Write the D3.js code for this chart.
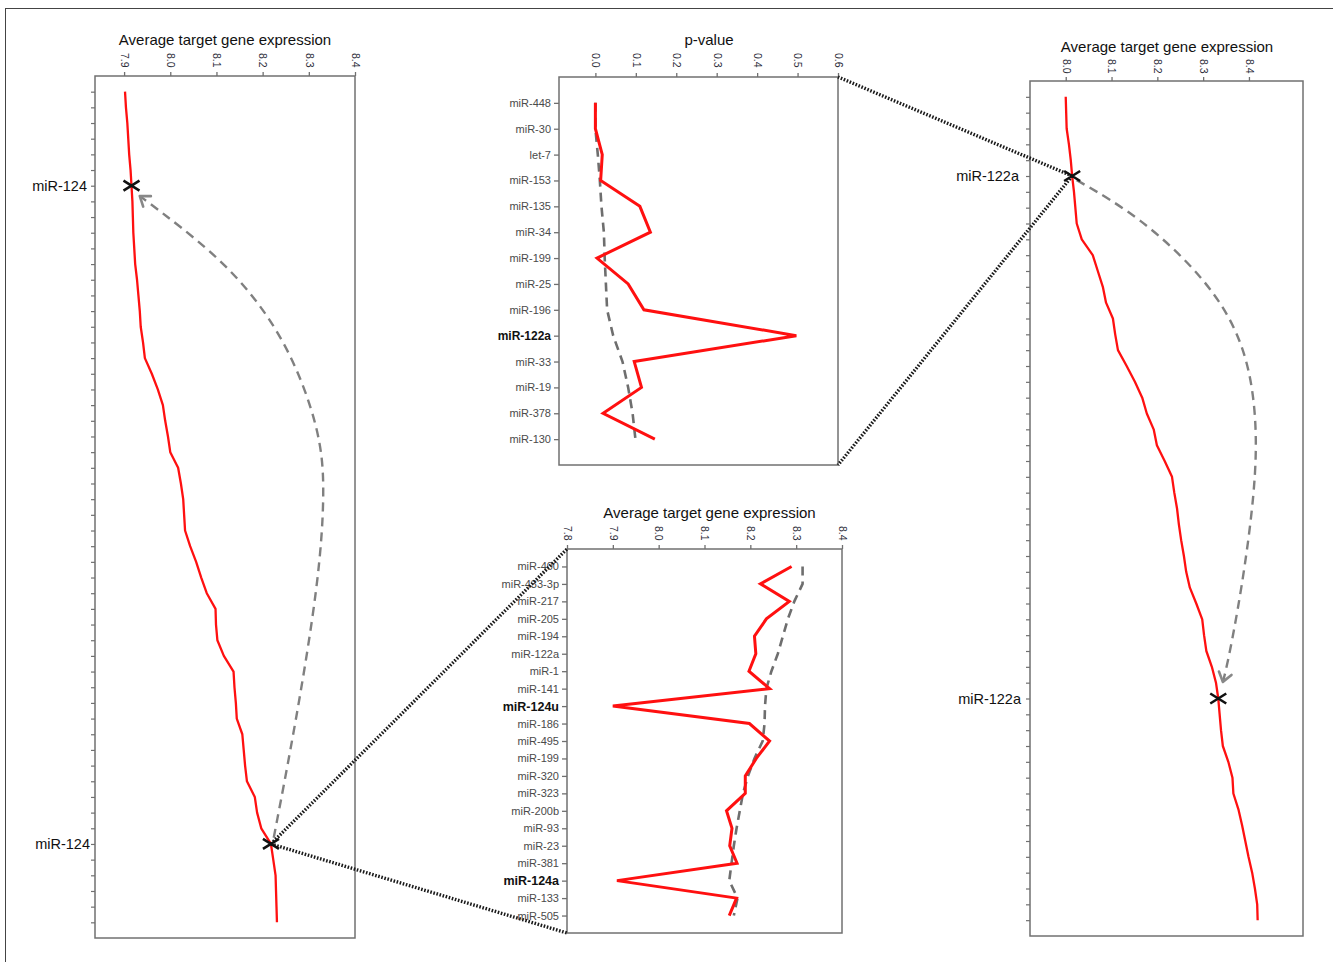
<!DOCTYPE html>
<html>
<head>
<meta charset="utf-8">
<script src="https://cdn.jsdelivr.net/npm/d3@7"></script>
<style>
  body { margin: 0; background: #fff; }
  svg { display: block; font-family: "Liberation Sans", Arial, sans-serif; }
</style>
</head>
<body>
<svg id="fig" width="1333" height="962"></svg>
<script>
// Ranked miRNAs by average target gene expression (outer panels, one value per rank)
const leftExpr = [7.902, 7.904, 7.907, 7.909, 7.911, 7.914, 7.916, 7.918, 7.919, 7.920,
                  7.922, 7.924, 7.928, 7.931, 7.934, 7.936, 7.941, 7.945, 7.960, 7.973,
                  7.984, 7.989, 7.995, 8.000, 8.017, 8.023, 8.028, 8.030, 8.032, 8.043,
                  8.056, 8.067, 8.079, 8.098, 8.099, 8.102, 8.116, 8.137, 8.139, 8.142,
                  8.144, 8.156, 8.159, 8.162, 8.166, 8.183, 8.188, 8.197, 8.218, 8.223,
                  8.228, 8.229, 8.230, 8.231];
const leftMarked = [6, 48];          // miR-124 before / after
const leftMarkLabels = ["miR-124", "miR-124"];

const rightExpr = [8.000, 8.001, 8.002, 8.007, 8.011, 8.014, 8.018, 8.021, 8.024, 8.035,
                   8.059, 8.070, 8.081, 8.088, 8.103, 8.108, 8.114, 8.133, 8.151, 8.167,
                   8.177, 8.192, 8.199, 8.216, 8.232, 8.237, 8.243, 8.247, 8.252, 8.258,
                   8.263, 8.271, 8.285, 8.298, 8.302, 8.307, 8.319, 8.328, 8.333, 8.336,
                   8.339, 8.343, 8.355, 8.364, 8.366, 8.377, 8.385, 8.392, 8.399, 8.407,
                   8.413, 8.418, 8.419];
const rightMarked = [5, 38];         // miR-122a before / after
const rightMarkLabels = ["miR-122a", "miR-122a"];

// p-value panel
const pvalCats = ["miR-448", "miR-30", "let-7", "miR-153", "miR-135", "miR-34", "miR-199",
                  "miR-25", "miR-196", "miR-122a", "miR-33", "miR-19", "miR-378", "miR-130"];
const pvalObserved = [0.000, 0.000, 0.017, 0.013, 0.110, 0.136, 0.004,
                      0.081, 0.120, 0.497, 0.096, 0.114, 0.019, 0.147];
const pvalTrend = [0.000, 0.000, 0.006, 0.011, 0.015, 0.021, 0.023,
                   0.026, 0.029, 0.044, 0.067, 0.081, 0.092, 0.099];
const pvalBold = ["miR-122a"];

// expression panel
const exprCats = ["miR-400", "miR-433-3p", "miR-217", "miR-205", "miR-194", "miR-122a", "miR-1",
                  "miR-141", "miR-124u", "miR-186", "miR-495", "miR-199", "miR-320", "miR-323",
                  "miR-200b", "miR-93", "miR-23", "miR-381", "miR-124a", "miR-133", "miR-505"];
const exprObserved = [8.290, 8.222, 8.285, 8.235, 8.209, 8.212, 8.197,
                      8.242, 7.900, 8.198, 8.242, 8.213, 8.189, 8.189,
                      8.148, 8.160, 8.155, 8.171, 7.909, 8.170, 8.154];
const exprTrend = [8.314, 8.314, 8.296, 8.282, 8.271, 8.260, 8.246,
                   8.235, 8.232, 8.231, 8.227, 8.209, 8.195, 8.184,
                   8.177, 8.170, 8.164, 8.159, 8.154, 8.172, 8.164];
const exprBold = ["miR-124u", "miR-124a"];

// axis ticks
const leftTicks = [7.9, 8.0, 8.1, 8.2, 8.3, 8.4];
const rightTicks = [8.0, 8.1, 8.2, 8.3, 8.4];
const pvalTicks = [0.0, 0.1, 0.2, 0.3, 0.4, 0.5, 0.6];
const exprTicks = [7.8, 7.9, 8.0, 8.1, 8.2, 8.3, 8.4];

// shift arrows, in (expression, rank) units of their panel
const leftArrow = [[8.224, 47.6], [8.273, 40.1], [8.322, 31.2], [8.335, 25.4], [8.325, 21.6],
                   [8.252, 15.8], [8.130, 11.1], [7.975, 7.55], [7.934, 6.66]];
const rightArrow = [[8.024, 5.26], [8.162, 7.57], [8.310, 11.57], [8.392, 15.57], [8.418, 20.2],
                    [8.414, 24.84], [8.383, 31.36], [8.352, 36.0], [8.343, 36.95]];

const svg = d3.select("#fig");
const RED = "#ff1010";
const FRAME = "#707070";

// outer border of the figure
svg.append("rect").attr("x", 5.5).attr("y", 8.5).attr("width", 1340).attr("height", 970)
  .attr("fill", "none").attr("stroke", "#444").attr("stroke-width", 1);

const defs = svg.append("defs");
defs.append("marker").attr("id", "chev")
  .attr("viewBox", "-12 -10 24 20").attr("refX", 0).attr("refY", 0)
  .attr("markerWidth", 24).attr("markerHeight", 20).attr("markerUnits", "userSpaceOnUse")
  .attr("orient", "auto")
  .append("path").attr("d", "M-9,-6.5L0,0L-9,6.5")
  .attr("fill", "none").attr("stroke", "#888").attr("stroke-width", 2.6)
  .attr("stroke-linecap", "round").attr("stroke-linejoin", "round");

function frame(g, p) {
  g.append("rect").attr("x", p.x0).attr("y", p.y0)
    .attr("width", p.x1 - p.x0).attr("height", p.y1 - p.y0)
    .attr("fill", "#fff").attr("stroke", FRAME).attr("stroke-width", 1.5);
}

function topAxis(g, p, x, ticks, labelOffset) {
  const ax = g.append("g").attr("transform", `translate(0,${p.y0})`)
    .call(d3.axisTop(x).tickValues(ticks).tickSize(4).tickFormat(d3.format(".1f")));
  ax.select(".domain").remove();
  ax.selectAll(".tick line").attr("stroke", FRAME).attr("stroke-width", 1.3);
  ax.selectAll(".tick text")
    .attr("transform", "rotate(90)")
    .attr("x", -labelOffset).attr("y", 0).attr("dy", "0.35em")
    .attr("text-anchor", "start")
    .attr("font-size", 10.5).attr("fill", "#2d2d3a")
    .attr("font-family", "'Liberation Sans', Arial, sans-serif");
}

function title(g, text, cx, y) {
  g.append("text").attr("x", cx).attr("y", y).attr("text-anchor", "middle")
    .attr("font-size", 15).attr("fill", "#111").text(text);
}

function cross(g, cx, cy) {
  g.append("path")
    .attr("d", `M${cx - 8},${cy - 5}L${cx + 8},${cy + 5}M${cx - 8},${cy + 5}L${cx + 8},${cy - 5}`)
    .attr("stroke", "#111").attr("stroke-width", 2.6).attr("fill", "none");
}

// ranked panel (outer left / outer right)
function rankedPanel(p) {
  const g = svg.append("g");
  frame(g, p);
  const n = p.values.length;
  const x = d3.scaleLinear().domain(p.domain).range([p.x0, p.x1]);
  const y = d3.scaleLinear().domain([-1, n]).range([p.y0, p.y1]);
  topAxis(g, p, x, p.ticks, p.labelOffset);
  title(g, "Average target gene expression", p.titleX, p.titleY);

  // rank ticks on the left edge
  g.append("g").attr("transform", `translate(${p.x0},0)`)
    .call(d3.axisLeft(y).tickValues(d3.range(n)).tickSize(4).tickFormat(""))
    .call(a => a.select(".domain").remove())
    .selectAll(".tick line").attr("stroke", FRAME).attr("stroke-width", 1.2);

  g.append("path").datum(p.values)
    .attr("d", d3.line().x(d => x(d)).y((d, i) => y(i)))
    .attr("fill", "none").attr("stroke", RED).attr("stroke-width", 2.3)
    .attr("stroke-linejoin", "round");

  // shift arrow
  g.append("path").datum(p.arrow)
    .attr("d", d3.line().x(d => x(d[0])).y(d => y(d[1])).curve(d3.curveBasis))
    .attr("fill", "none").attr("stroke", "#808080").attr("stroke-width", 2.4)
    .attr("stroke-dasharray", "9,6").attr("marker-end", "url(#chev)");

  const pts = p.marked.map(i => [x(p.values[i]), y(i)]);
  pts.forEach((pt, k) => {
    g.append("text").attr("x", p.x0 - p.labelGap[k]).attr("y", pt[1]).attr("dy", "0.35em")
      .attr("text-anchor", "end").attr("font-size", 14.5).attr("fill", "#111")
      .text(p.markLabels[k]);
  });
  return { g, pts };
}

// category panel (middle)
function categoryPanel(p) {
  const g = svg.append("g");
  frame(g, p);
  const x = d3.scaleLinear().domain(p.domain).range([p.x0, p.x1]);
  const y = d3.scalePoint().domain(p.cats).range([p.y0, p.y1]).padding(1);
  topAxis(g, p, x, p.ticks, p.labelOffset);
  title(g, p.title, (p.x0 + p.x1) / 2 + p.titleDx, p.titleY);

  const ay = g.append("g").attr("transform", `translate(${p.x0},0)`)
    .call(d3.axisLeft(y).tickSize(5).tickPadding(3));
  ay.select(".domain").remove();
  ay.selectAll(".tick line").attr("stroke", FRAME).attr("stroke-width", 1.3);
  ay.selectAll(".tick text")
    .attr("font-family", "'Liberation Sans', Arial, sans-serif")
    .attr("font-size", d => p.bold.includes(d) ? p.boldSize : 11)
    .attr("font-weight", d => p.bold.includes(d) ? "bold" : "normal")
    .attr("fill", d => p.bold.includes(d) ? "#111" : "#4a4a4a");

  g.append("path").datum(p.trend)
    .attr("d", d3.line().x(d => x(d)).y((d, i) => y(p.cats[i])))
    .attr("fill", "none").attr("stroke", "#6e6e6e").attr("stroke-width", 2.6)
    .attr("stroke-dasharray", "9,6");
  g.append("path").datum(p.observed)
    .attr("d", d3.line().x(d => x(d)).y((d, i) => y(p.cats[i])))
    .attr("fill", "none").attr("stroke", RED).attr("stroke-width", 3)
    .attr("stroke-linejoin", "miter");
  return g;
}

const left = rankedPanel({
  x0: 95, x1: 355, y0: 76, y1: 938, domain: [7.837, 8.4], ticks: leftTicks,
  values: leftExpr, marked: leftMarked, markLabels: leftMarkLabels, labelGap: [8, 5],
  arrow: leftArrow, titleX: 225, titleY: 45, labelOffset: 23
});

const right = rankedPanel({
  x0: 1030, x1: 1303, y0: 81, y1: 936, domain: [7.922, 8.518], ticks: rightTicks,
  values: rightExpr, marked: rightMarked, markLabels: rightMarkLabels, labelGap: [11, 9],
  arrow: rightArrow, titleX: 1167, titleY: 52, labelOffset: 22
});

const pvalP = { x0: 559, x1: 838, y0: 77, y1: 465 };
categoryPanel(Object.assign({
  domain: [-0.09, 0.6], ticks: pvalTicks, cats: pvalCats, observed: pvalObserved,
  trend: pvalTrend, bold: pvalBold, boldSize: 12, title: "p-value", titleDx: 10.5,
  titleY: 45, labelOffset: 24
}, pvalP));

const exprP = { x0: 567, x1: 842, y0: 549, y1: 933 };
categoryPanel(Object.assign({
  domain: [7.8, 8.4], ticks: exprTicks, cats: exprCats, observed: exprObserved,
  trend: exprTrend, bold: exprBold, boldSize: 12.5, title: "Average target gene expression",
  titleDx: 5, titleY: 518, labelOffset: 23
}, exprP));

// zoom connectors from the marked points to the detail panels
const conn = svg.append("g").attr("fill", "none").attr("stroke", "#1a1a1a")
  .attr("stroke-width", 3.4).attr("stroke-dasharray", "1.6,1.6");
const lp = left.pts[1];
[[exprP.x0, exprP.y0], [exprP.x0, exprP.y1]].forEach(c =>
  conn.append("line").attr("x1", lp[0]).attr("y1", lp[1]).attr("x2", c[0]).attr("y2", c[1]));
const rp = right.pts[0];
[[pvalP.x1, pvalP.y0], [pvalP.x1, pvalP.y1]].forEach(c =>
  conn.append("line").attr("x1", rp[0]).attr("y1", rp[1]).attr("x2", c[0]).attr("y2", c[1]));

// cross markers on top
left.pts.forEach(pt => cross(svg, pt[0], pt[1]));
right.pts.forEach(pt => cross(svg, pt[0], pt[1]));
</script>
</body>
</html>
